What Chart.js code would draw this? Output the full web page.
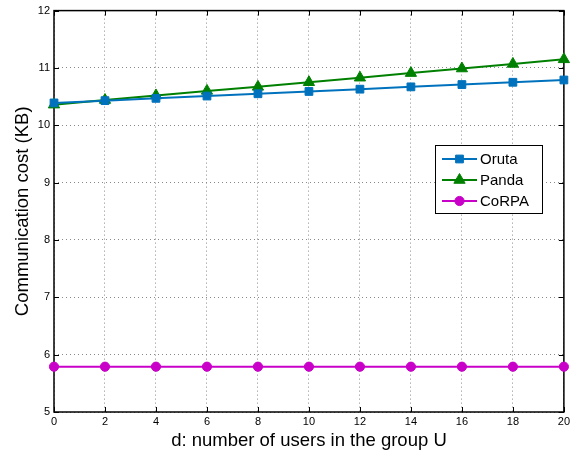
<!DOCTYPE html>
<html><head><meta charset="utf-8">
<script src="https://cdn.jsdelivr.net/npm/chart.js@4/dist/chart.umd.min.js"></script>
<style>html,body{margin:0;padding:0;background:#fff}</style>
</head><body>
<canvas id="c" width="573" height="454"></canvas>
<script>
const userCounts = [0, 2, 4, 6, 8, 10, 12, 14, 16, 18, 20];
const orutaCost = [10.39, 10.43, 10.47, 10.51, 10.55, 10.59, 10.63, 10.67, 10.71, 10.75, 10.79];
const pandaCost = [10.36, 10.44, 10.52, 10.60, 10.67, 10.75, 10.83, 10.91, 10.99, 11.07, 11.15];
const corpaCost = [5.79, 5.79, 5.79, 5.79, 5.79, 5.79, 5.79, 5.79, 5.79, 5.79, 5.79];
const seriesNames = ['Oruta', 'Panda', 'CoRPA'];
const xTitle = 'd: number of users in the group U';
const yTitle = 'Communication cost (KB)';

const FONT = 'Liberation Sans, Arial, Helvetica, sans-serif';
Chart.defaults.font.family = FONT;
Chart.defaults.color = '#000';

const toPts = arr => arr.map((v, i) => ({x: userCounts[i], y: v}));
const styles = [
  {color: 'rgb(0,114,189)', pointStyle: 'rect', r: 5.5},
  {color: 'rgb(0,128,0)', pointStyle: 'triangle', r: 6.5},
  {color: 'rgb(200,0,200)', pointStyle: 'circle', r: 4.6}
];
const series = [orutaCost, pandaCost, corpaCost];

const datasets = series.map((s, i) => ({
  label: seriesNames[i],
  data: toPts(s),
  borderColor: styles[i].color,
  backgroundColor: styles[i].color,
  pointBackgroundColor: styles[i].color,
  pointBorderColor: styles[i].color,
  pointStyle: styles[i].pointStyle,
  pointRadius: styles[i].r,
  pointBorderWidth: 1,
  borderWidth: 2,
  tension: 0,
  clip: false
}));

function drawMarker(ctx, style, x, y, r, color) {
  ctx.save();
  ctx.fillStyle = color; ctx.strokeStyle = color; ctx.lineWidth = 1;
  ctx.beginPath();
  if (style === 'rect') {
    const s = Math.SQRT1_2 * r;
    ctx.rect(x - s, y - s, 2 * s, 2 * s);
  } else if (style === 'triangle') {
    let a = 0;
    ctx.moveTo(x + Math.sin(a) * r, y - Math.cos(a) * r);
    a += 2 * Math.PI / 3;
    ctx.lineTo(x + Math.sin(a) * r, y - Math.cos(a) * r);
    a += 2 * Math.PI / 3;
    ctx.lineTo(x + Math.sin(a) * r, y - Math.cos(a) * r);
    ctx.closePath();
  } else {
    ctx.arc(x, y, r, 0, Math.PI * 2);
  }
  ctx.fill(); ctx.stroke();
  ctx.restore();
}

const framePlugin = {
  id: 'frame',
  beforeDatasetsDraw(chart) {
    const {ctx, chartArea: a, scales} = chart;
    ctx.save();
    ctx.strokeStyle = '#000';
    ctx.lineWidth = 1.5;
    ctx.strokeRect(a.left, a.top, a.right - a.left, a.bottom - a.top);
    ctx.lineWidth = 1;
    const tl = 5;
    ctx.beginPath();
    scales.x.ticks.forEach(t => {
      const px = Math.round(scales.x.getPixelForValue(t.value)) + 0.5;
      ctx.moveTo(px, a.bottom); ctx.lineTo(px, a.bottom - tl);
      ctx.moveTo(px, a.top); ctx.lineTo(px, a.top + tl);
    });
    scales.y.ticks.forEach(t => {
      const py = Math.round(scales.y.getPixelForValue(t.value)) + 0.5;
      ctx.moveTo(a.left, py); ctx.lineTo(a.left + tl, py);
      ctx.moveTo(a.right, py); ctx.lineTo(a.right - tl, py);
    });
    ctx.stroke();
    ctx.restore();
  },
  afterDraw(chart) {
    const {ctx} = chart;
    const bx = 435.5, by = 145.5, bw = 107, bh = 68;
    ctx.save();
    ctx.fillStyle = '#fff';
    ctx.fillRect(bx, by, bw, bh);
    ctx.strokeStyle = '#000';
    ctx.lineWidth = 1;
    ctx.strokeRect(bx, by, bw, bh);
    ctx.font = '15px ' + FONT;
    ctx.textBaseline = 'middle';
    ctx.textAlign = 'left';
    chart.data.datasets.forEach((ds, i) => {
      const y = 159 + i * 21;
      ctx.strokeStyle = ds.borderColor;
      ctx.lineWidth = 2;
      ctx.beginPath(); ctx.moveTo(442, y); ctx.lineTo(477, y); ctx.stroke();
      drawMarker(ctx, ds.pointStyle, 459.5, y, ds.pointRadius, ds.borderColor);
      ctx.fillStyle = '#000';
      ctx.fillText(ds.label, 480, y + 1);
    });
    ctx.restore();
  }
};

new Chart(document.getElementById('c'), {
  type: 'line',
  data: {datasets},
  options: {
    responsive: false,
    animation: false,
    devicePixelRatio: 1,
    layout: {padding: {top: 9, right: 7, bottom: 0, left: 0}},
    plugins: {legend: {display: false}, tooltip: {enabled: false}},
    scales: {
      x: {
        type: 'linear', min: 0, max: 20,
        ticks: {stepSize: 2, font: {size: 11}, color: '#000', padding: 3, maxRotation: 0, autoSkip: false},
        grid: {color: '#8a8a8a', lineWidth: 1, drawTicks: false},
        border: {display: false, dash: [1, 3]},
        title: {display: true, text: xTitle, font: {size: 18.5}, color: '#000', padding: {top: 2, bottom: 2}},
        afterFit(s) { s.height = 42; }
      },
      y: {
        type: 'linear', min: 5, max: 12,
        ticks: {stepSize: 1, font: {size: 11}, color: '#000', padding: 4},
        grid: {color: '#8a8a8a', lineWidth: 1, drawTicks: false},
        border: {display: false, dash: [1, 3]},
        title: {display: true, text: yTitle, font: {size: 18.5}, color: '#000', padding: {top: 12, bottom: 12}},
        afterFit(s) { s.width = 54; }
      }
    }
  },
  plugins: [framePlugin]
});
</script>
</body></html>
